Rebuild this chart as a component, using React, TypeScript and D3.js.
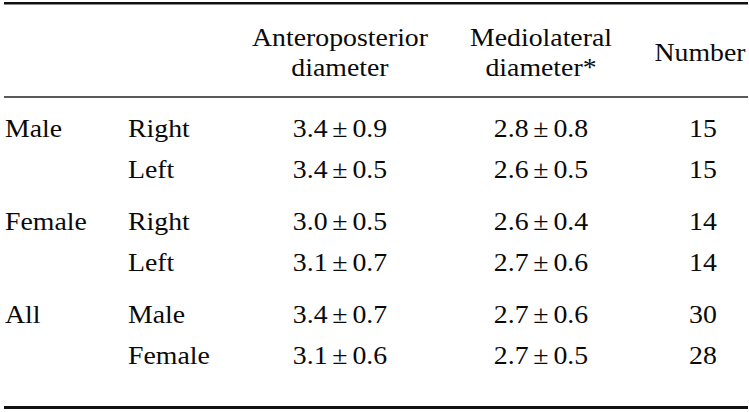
import React from "react";
import * as d3 from "d3";

const groups = ["Male", "Female", "All"];
const subgroups = [["Right", "Left"], ["Right", "Left"], ["Male", "Female"]];
const apMean = [[3.4, 3.4], [3.0, 3.1], [3.4, 3.1]];
const apSd = [[0.9, 0.5], [0.5, 0.7], [0.7, 0.6]];
const mlMean = [[2.8, 2.6], [2.6, 2.7], [2.7, 2.7]];
const mlSd = [[0.8, 0.5], [0.4, 0.6], [0.6, 0.5]];
const counts = [[15, 15], [14, 14], [30, 28]];
const headers = [["Anteroposterior", "diameter"], ["Mediolateral", "diameter*"], ["Number"]];

const W = 749;
const H = 412;
const FS = 26;
const SX = 1.07;
const FONT = "Liberation Serif, Times New Roman, Times, Tinos, serif";

export default function App() {
  const groupY = d3.scaleLinear().domain([0, 1]).range([137, 230]);
  const rowStep = 41;
  const colX = d3.scaleOrdinal<string, number>()
    .domain(["group", "sub", "ap", "ml", "n"])
    .range([5, 128, 340, 541, 702]);
  const fmt = d3.format(".1f");

  const T = (x: number, y: number, anchor: string, content: React.ReactNode, key?: string) => (
    <text
      key={key}
      transform={`translate(${x},${y}) scale(${SX},1)`}
      textAnchor={anchor}
      style={{ fontFamily: FONT, fontSize: FS }}
      fill="#0a0a0a"
    >
      {content}
    </text>
  );

  const pm = (m: number, s: number) => (
    <>
      <tspan>{fmt(m)}</tspan>
      <tspan dx={4.5}>±</tspan>
      <tspan dx={4.5}>{fmt(s)}</tspan>
    </>
  );

  const headerX = [colX("ap"), colX("ml"), 700];
  const headLine = d3.scaleLinear().domain([0, 1]).range([45.5, 75.5]);

  return (
    <svg
      width={W}
      height={H}
      style={{ position: "absolute", left: 0, top: 0, background: "#fff" }}
    >
      <line x1={4} x2={748} y1={3.2} y2={3.2} stroke="#111" strokeWidth={2.5} />
      <line x1={4} x2={748} y1={97} y2={97} stroke="#222" strokeWidth={1.3} />
      <line x1={4} x2={748} y1={407.5} y2={407.5} stroke="#111" strokeWidth={3} />

      {headers.map((h, i) =>
        h.length === 2
          ? h.map((line, j) => T(headerX[i], headLine(j), "middle", line, `h${i}-${j}`))
          : T(headerX[i], (headLine(0) + headLine(1)) / 2, "middle", h[0], `h${i}`)
      )}

      {groups.map((g, gi) => {
        const y0 = groupY(gi);
        return (
          <g key={g + gi}>
            {T(colX("group"), y0, "start", g)}
            {subgroups[gi].map((s, si) => {
              const y = y0 + si * rowStep;
              return (
                <g key={s + si}>
                  {T(colX("sub"), y, "start", s)}
                  {T(colX("ap"), y, "middle", pm(apMean[gi][si], apSd[gi][si]))}
                  {T(colX("ml"), y, "middle", pm(mlMean[gi][si], mlSd[gi][si]))}
                  {T(colX("n") + 1, y, "middle", String(counts[gi][si]))}
                </g>
              );
            })}
          </g>
        );
      })}
    </svg>
  );
}
